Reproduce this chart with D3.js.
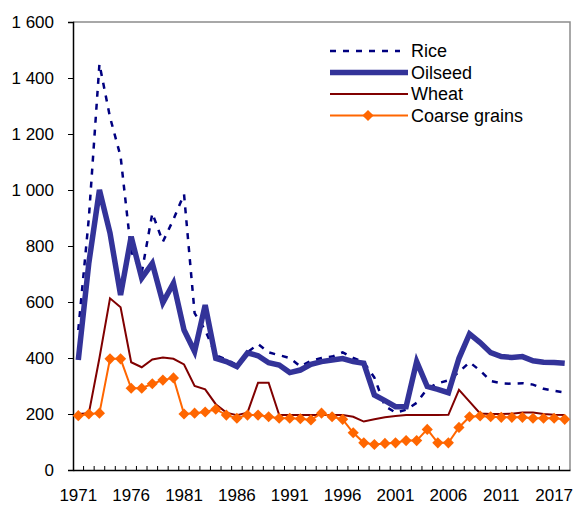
<!DOCTYPE html>
<meta charset="utf-8">
<style>
body { margin: 0; background: #fff; }
svg { font-family: "Liberation Sans", Arial, sans-serif; }
</style>
<svg width="577" height="506"></svg>
<script src="https://d3js.org/d3.v7.min.js"></script>
<script>
// years on the category axis
var years = d3.range(1971, 2018);
// tick labels as printed under the axis
var tickYears = [1971, 1976, 1981, 1986, 1991, 1996, 2001, 2006, 2011, 2016];
var tickLabels = ["1971", "1976", "1981", "1986", "1991", "1996", "2001", "2006", "2011", "2017"];
var yTicks = [0, 200, 400, 600, 800, 1000, 1200, 1400, 1600];

var rice = [500, 900, 1450, 1260, 1120, 780, 705, 917, 815, 895, 985, 560, 500, 410, 395, 375, 420, 450, 420, 410,
  400, 370, 390, 400, 405, 420, 400, 385, 330, 228, 205, 215, 240, 290, 310, 320, 350, 385, 355, 318,
  310, 308, 310, 305, 290, 283, 277];
var oilseed = [393, 740, 1000, 846, 625, 833, 685, 738, 598, 667, 500, 423, 589, 399, 387, 369, 418, 408, 383, 375,
  348, 357, 377, 387, 393, 398, 387, 381, 268, 248, 226, 226, 387, 298, 288, 276, 399, 486, 455, 419,
  405, 402, 405, 390, 385, 384, 381];
var wheat = [200, 203, 400, 613, 581, 385, 367, 395, 402, 397, 377, 300, 288, 235, 205, 196, 205, 312, 312, 196,
  196, 196, 196, 196, 196, 196, 190, 173, 181, 188, 193, 196, 196, 196, 196, 197, 286, 244, 202, 200,
  200, 201, 205, 205, 200, 197, 196];
var coarse = [194, 200, 203, 397, 397, 292, 292, 308, 321, 329, 200, 203, 207, 217, 196, 185, 196, 196, 190, 185,
  185, 183, 179, 203, 190, 181, 133, 97, 91, 95, 97, 105, 105, 145, 97, 97, 152, 190, 193, 190,
  188, 188, 188, 185, 185, 185, 181];

var series = [
  {name: "Rice", values: rice, color: "#000080", width: 2.5, dash: "6,7", marker: false},
  {name: "Oilseed", values: oilseed, color: "#333399", width: 5.5, dash: null, marker: false},
  {name: "Wheat", values: wheat, color: "#800000", width: 2, dash: null, marker: false},
  {name: "Coarse grains", values: coarse, color: "#ff6600", width: 2, dash: null, marker: true}
];

var svg = d3.select("svg"),
    plotLeft = 73, plotRight = 570, plotTop = 22, plotBottom = 470;

var x = d3.scaleBand().domain(years).range([plotLeft, plotRight]).padding(0);
var y = d3.scaleLinear().domain([0, 1600]).range([plotBottom, plotTop]);
var cx = function(yr) { return x(yr) + x.bandwidth() / 2; };

var locale = d3.formatLocale({decimal: ".", thousands: " ", grouping: [3], currency: ["", ""]});
var fmt = locale.format(",d");

// frame: top and right in grey
svg.append("path")
    .attr("d", "M" + plotLeft + "," + plotTop + "H" + plotRight + "V" + plotBottom)
    .attr("fill", "none")
    .attr("stroke", "#8c8c8c")
    .attr("stroke-width", 1.5);

// y axis
var yAxis = svg.append("g")
    .attr("transform", "translate(" + plotLeft + ",0)")
    .call(d3.axisLeft(y).tickValues(yTicks).tickFormat(fmt).tickSize(5).tickPadding(14));
yAxis.select(".domain").attr("stroke", "#000").attr("stroke-width", 1.5);
yAxis.selectAll("text").attr("font-size", 17).attr("fill", "#000").attr("font-family", "Liberation Sans, Arial, sans-serif");

// x axis: labels at category centres, ticks between categories
var xAxis = svg.append("g")
    .attr("transform", "translate(0," + plotBottom + ")")
    .call(d3.axisBottom(x).tickValues(tickYears)
      .tickFormat(function(d) { return tickLabels[tickYears.indexOf(d)]; })
      .tickSize(0).tickPadding(19));
xAxis.select(".domain").attr("stroke", "#000").attr("stroke-width", 1.5);
xAxis.selectAll("text").attr("font-size", 17).attr("fill", "#000").attr("font-family", "Liberation Sans, Arial, sans-serif");

svg.append("g").selectAll("line")
    .data(years.slice(1))
  .enter().append("line")
    .attr("x1", function(d) { return x(d); })
    .attr("x2", function(d) { return x(d); })
    .attr("y1", plotBottom)
    .attr("y2", plotBottom - 4)
    .attr("stroke", "#000")
    .attr("stroke-width", 1);

var line = d3.line()
    .x(function(d, i) { return cx(years[i]); })
    .y(function(d) { return y(d); });

series.forEach(function(s) {
  svg.append("path")
      .datum(s.values)
      .attr("d", line)
      .attr("fill", "none")
      .attr("stroke", s.color)
      .attr("stroke-width", s.width)
      .attr("stroke-dasharray", s.dash)
      .attr("stroke-linejoin", "miter");
  if (s.marker) {
    svg.append("g").selectAll("path")
        .data(s.values)
      .enter().append("path")
        .attr("d", d3.symbol(d3.symbolSquare, 62))
        .attr("transform", function(d, i) { return "translate(" + cx(years[i]) + "," + y(d) + ") rotate(45)"; })
        .attr("fill", s.color);
  }
});

// legend
var legend = svg.append("g").selectAll("g")
    .data(series)
  .enter().append("g")
    .attr("transform", function(d, i) { return "translate(330," + (51 + i * 21.5) + ")"; });
legend.append("line")
    .attr("x1", 0)
    .attr("x2", function(d) { return d.dash ? 70 : 78; })
    .attr("stroke", function(d) { return d.color; })
    .attr("stroke-width", function(d) { return d.width; })
    .attr("stroke-dasharray", function(d) { return d.dash; });
legend.filter(function(d) { return d.marker; }).append("path")
    .attr("d", d3.symbol(d3.symbolSquare, 62))
    .attr("transform", "translate(38,0) rotate(45)")
    .attr("fill", function(d) { return d.color; });
legend.append("text")
    .attr("x", 81)
    .attr("dy", "0.35em")
    .attr("font-size", 18)
    .text(function(d) { return d.name; });
</script>
